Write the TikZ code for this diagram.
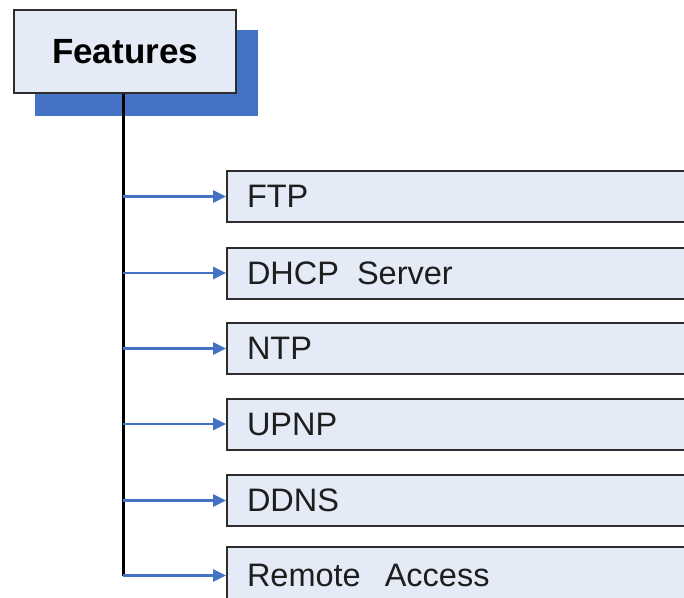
\documentclass[tikz,border=0pt]{standalone}
\usepackage{fontspec}
\setmainfont{Liberation Sans}
\usetikzlibrary{arrows.meta}
\definecolor{boxfill}{RGB}{228,234,246}
\definecolor{shadowblue}{RGB}{68,114,196}
\definecolor{arrowblue}{RGB}{68,114,196}
\definecolor{edge}{RGB}{45,45,45}
\definecolor{textgray}{RGB}{30,30,30}
\tikzset{
  featbox/.style={draw=edge, line width=2pt, fill=boxfill, minimum width=222pt, minimum height=83pt, inner sep=0pt, font=\fontsize{35}{38}\selectfont\bfseries},
  itembox/.style={draw=edge, line width=2pt, fill=boxfill, anchor=west, minimum height=51pt, text width=440pt, inner xsep=20pt, align=left, text=textgray, font=\fontsize{32.5}{36}\selectfont},
  arr/.style={draw=arrowblue, line width=2.6pt, -{Triangle[length=13pt,width=12pt]}},
  trunk/.style={draw=black, line width=3pt}
}
\begin{document}
\begin{tikzpicture}[x=1pt,y=-1pt]
\clip (0,0) rectangle (684,597);
\fill[white] (0,0) rectangle (684,597);
\fill[shadowblue] (35,30) rectangle (258,116);
\node[featbox] (feat) at (125,51.5) {Features};
\node[itembox] (ftp) at (226,196.5) {FTP};
\node[itembox] (dhcp) at (226,273) {DHCP\hspace{18pt}Server};
\node[itembox] (ntp) at (226,348.5) {NTP};
\node[itembox] (upnp) at (226,424) {UPNP};
\node[itembox] (ddns) at (226,500.5) {DDNS};
\node[itembox, minimum height=57pt] (remote) at (226,575.5) {Remote\hspace{24pt}Access};
\coordinate (tx) at (123,0);
\draw[trunk] (tx |- feat.south) -- (tx |- remote.west);
\foreach \n in {ftp,dhcp,ntp,upnp,ddns,remote}
  \draw[arr] (tx |- \n.west) -- (\n.west);
\end{tikzpicture}
\end{document}
